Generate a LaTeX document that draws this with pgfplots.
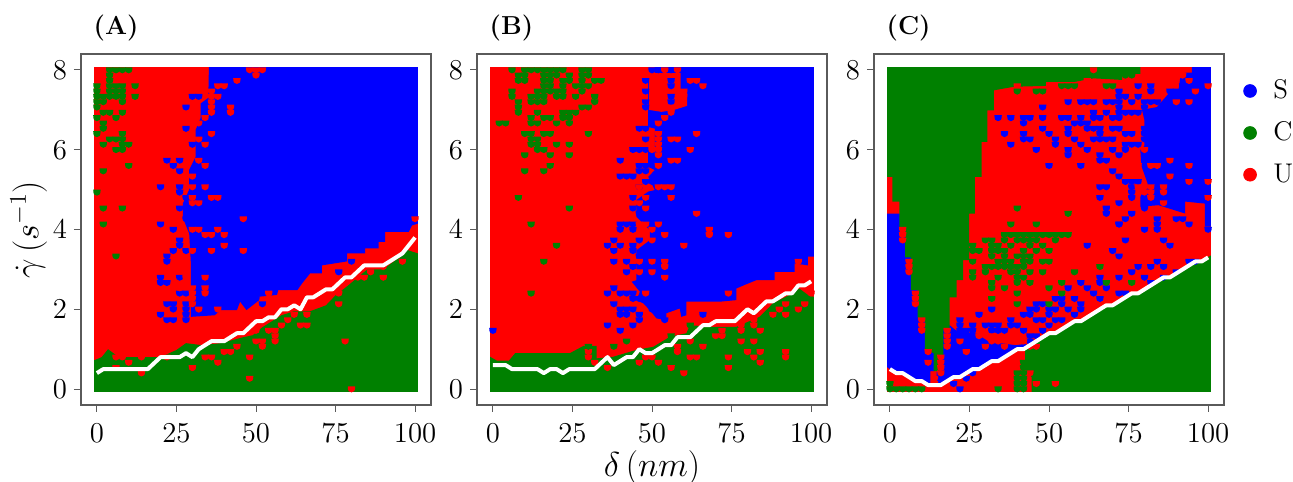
\documentclass[border=0pt]{standalone}
\usepackage{pgfplots}
\pgfplotsset{compat=1.18}
\definecolor{G}{RGB}{0,128,0}
\definecolor{frm}{RGB}{90,90,90}
\pgfdeclareplotmark{cup}{%
  \pgfpathmoveto{\pgfqpoint{-1.85pt}{1.3pt}}%
  \pgfpathcurveto{\pgfqpoint{-1.85pt}{-0.9pt}}{\pgfqpoint{-1.3pt}{-1.7pt}}{\pgfqpoint{0pt}{-1.7pt}}%
  \pgfpathcurveto{\pgfqpoint{1.3pt}{-1.7pt}}{\pgfqpoint{1.85pt}{-0.9pt}}{\pgfqpoint{1.85pt}{1.3pt}}%
  \pgfpathclose\pgfusepathqfill}
\pgfplotsset{
  panel/.style={
    scale only axis, width=175pt, height=175.5pt, anchor=south west,
    clip mode=individual,
    xmin=-5, xmax=105, ymin=-0.4, ymax=8.4,
    xtick={0,25,50,75,100}, ytick={0,2,4,6,8},
    tick align=outside, major tick length=3.5pt,
    xtick pos=bottom, ytick pos=left,
    tick style={frm, line width=0.5pt},
    axis line style={frm, line width=0.6pt},
    tick label style={font=\fontsize{14}{16}\selectfont},
    xticklabel style={yshift=-2.5pt},
  },
  reg/.style={fill=#1, draw=none, forget plot},
  sp/.style={only marks, mark=cup, mark options={draw=none, fill=#1}, color=#1, forget plot,
             y filter/.expression={y*8/60}},
  wl/.style={white, line width=2pt, line join=round, no marks, forget plot},
}
\newcommand{\plab}[1]{\node[anchor=west, inner sep=0pt, font=\fontsize{13}{15}\selectfont\bfseries] at (rel axis cs:0.035,1.074) {(#1)};}
\begin{document}
\begin{tikzpicture}
\useasboundingbox (0,0) rectangle (646.5pt,240.5pt);
% ---------- A
\begin{axis}[panel, at={(40.5pt,38pt)},
  ylabel={\fontsize{17}{19}\selectfont$\dot{\gamma}\,(s^{-1})$}, ylabel style={yshift=-4pt}]
\addplot[reg=red] coordinates {(-0.9,-0.07) (100.9,-0.07) (100.9,8.07) (-0.9,8.07)} -- cycle;
\addplot[reg=blue] coordinates {(35.2,8.07) (100.9,8.07) (100.9,4.15) (99,4.1) (98,3.94) (90.6,3.94) (90.6,3.69) (88.5,3.69) (88.5,3.53) (84.3,3.53) (84.3,3.4) (78.6,3.4) (78.6,3.2) (70.7,3.1) (70.7,2.9) (67,2.9) (64.5,2.65) (63,2.48) (57,2.48) (56.6,2.36) (50.4,2.31) (50.4,2.19) (47,1.98) (45,2.19) (44,1.98) (39,1.98) (37,1.85) (29.5,1.81) (29.5,3.2) (29,3.9) (27,4.3) (27,4.65) (29,5.0) (29,5.5) (31,5.82) (31,6.49) (32.6,6.8) (32.6,7.16) (35,7.3)} -- cycle;
\addplot[reg=G] coordinates {(-0.9,-0.07) (100.9,-0.07) (100.9,3.4) (97,3.5) (95,3.3) (90,3.0) (85,3.0) (79,2.6) (75,2.35) (72,2.1) (67,1.95) (62,1.95) (58,1.85) (52,1.55) (49,1.35) (46,1.3) (39,1.15) (33,1.1) (28,1.15) (25,0.98) (20,0.8) (9,0.8) (6,0.85) (3.5,1.0) (1.5,0.8) (-0.9,0.72)} -- cycle;
\addplot[sp=blue] coordinates {(22,43)(26,43)(24,42)(26,41)(22,25)(24,26)(20,38)(26,38)(26,37)(28,36)(20,31)(24,30)(26,34)(26,27)(28,53)(28,49)(30,55)(32,55)(34,52)(30,46)(28,32)(28,26)(20,21)(20,20)(22,20)(22,16)(24,16)(24,15)(20,14)(22,13)(24,13)(28,16)(28,15)(28,14)(28,13)(26,18)(26,21)(28,18)(50,17)(52,16)(76,22)(80,24)(22,24)(26,28)};
\addplot[sp=red] coordinates {(48,60)(50,60)(52,60)(50,59)(44,58)(40,57)(38,57)(38,55)(36,56)(36,55)(36,54)(36,53)(36,52)(34,51)(42,53)(42,52)(32,50)(36,48)(32,47)(34,46)(32,43)(34,42)(30,40)(30,38)(34,38)(30,36)(30,35)(32,35)(36,36)(38,36)(46,32)(30,30)(32,30)(34,29)(36,29)(38,30)(40,29)(40,27)(30,26)(36,26)(46,26)(28,24)(26,24)(100,32)(96,24)(6,6)(8,6)(10,5)(6,4)(14,6)(14,3)(22,6)(30,4)(34,6)(36,6)(38,5)(40,7)(42,7)(44,8)(48,6)(48,2)(50,9)(52,9)(52,8)(56,9)(56,11)(56,10)(54,11)(50,11)(58,12)(60,13)(62,14)(64,12)(66,14)(66,12)(70,16)(76,16)(72,18)(78,9)(80,0)(86,22)(90,23)(90,21)(82,21)(84,21)(78,20)(76,18)(34,21)(34,19)(34,18)(30,19)(30,18)(30,17)(30,16)(28,21)(26,19)(32,15)(38,15)(42,14)(54,18)};
\addplot[sp=G] coordinates {(4,60)(6,60)(8,60)(10,60)(4,59)(4,58)(4,57)(4,56)(4,55)(6,57)(6,56)(6,55)(8,57)(8,56)(8,55)(8,54)(12,57)(12,55)(0,57)(0,56)(0,55)(0,54)(2,55)(2,54)(0,53)(2,52)(4,52)(8,52)(0,51)(6,51)(2,50)(2,49)(0,48)(8,48)(8,47)(8,46)(4,47)(6,47)(2,46)(6,45)(8,45)(10,46)(10,42)(2,41)(0,37)(8,34)(2,34)(2,31)(6,25)};
\addplot[wl] coordinates {(0,0.4)(2,0.5)(16,0.5)(20,0.8)(26,0.8)(28,0.9)(30,0.8)(32,1.0)(36,1.2)(40,1.2)(44,1.4)(46,1.4)(50,1.7)(52,1.7)(54,1.8)(56,1.8)(58,2.0)(60,2.0)(62,2.1)(64,2.0)(66,2.3)(68,2.3)(72,2.5)(74,2.5)(78,2.8)(80,2.8)(84,3.1)(90,3.1)(92,3.2)(94,3.3)(96,3.4)(98,3.6)(100,3.8)};
\plab{A}
\end{axis}
% ---------- B
\begin{axis}[panel, at={(238.5pt,38pt)},
  xlabel={\fontsize{17}{19}\selectfont$\delta\,(nm)$}, xlabel style={yshift=3pt}]
\addplot[reg=red] coordinates {(-0.9,-0.07) (100.9,-0.07) (100.9,8.07) (-0.9,8.07)} -- cycle;
\addplot[reg=blue] coordinates {(50.9,8.07) (100.9,8.07) (100.9,3.32) (99,3.32) (99,3.1) (94.8,3.15) (94.8,2.94) (88.5,2.94) (88.5,2.73) (82.8,2.73) (79.1,2.61) (76.5,2.52) (76.5,2.23) (71.3,2.19) (60.8,2.19) (60.8,1.85) (59.2,1.81) (58.7,2.02) (54.5,1.9) (54.5,1.73) (51.4,1.77) (49.3,1.98) (47.2,2.15) (45.1,2.23) (46.2,2.44) (43.6,2.69) (45.1,2.73) (45.1,3.48) (49.3,3.73) (49.3,3.98) (45.1,4.32) (45.1,4.74) (48.8,4.95) (50.9,4.99) (48.8,5.32) (50.9,5.49) (48.8,5.57) (48.8,5.99) (50.9,6.07) (50.9,6.53) (48.8,6.57) (48.8,7.79) (50.9,7.87)} -- cycle;
\addplot[reg=red] coordinates {(49,7.92) (59,7.92) (59,7.5) (61,7.5) (61,7.1) (57,7.0) (53,6.95) (49,7.0)} -- cycle;
\addplot[reg=G] coordinates {(-0.9,-0.07) (100.9,-0.07) (100.9,2.31) (99,2.36) (96.3,2.52) (93.2,2.36) (88,2.15) (83.8,1.81) (76.5,1.56) (69,1.56) (61.9,1.6) (60.8,1.4) (55.6,1.31) (50.4,1.06) (45,0.98) (37.8,0.81) (32.6,0.77) (32.6,1.08) (28.4,1.08) (24.2,0.9) (7,0.9) (5,0.71) (1.3,0.71) (-0.9,0.81)} -- cycle;
\addplot[sp=blue] coordinates {(40,43)(40,40)(42,40)(44,40)(46,49)(48,49)(48,47)(44,45)(46,45)(48,45)(46,42)(48,42)(46,41)(48,41)(50,43)(50,39)(48,39)(46,38)(44,36)(44,34)(46,33)(48,32)(50,32)(40,30)(42,31)(44,31)(48,58)(48,56)(48,54)(48,53)(56,58)(56,57)(56,55)(56,54)(50,60)(52,60)(56,60)(60,60)(36,27)(38,28)(40,27)(38,26)(38,24)(42,24)(42,22)(44,27)(44,26)(44,23)(46,28)(46,25)(36,18)(38,19)(40,18)(42,18)(44,18)(44,17)(46,17)(38,16)(40,15)(42,15)(42,14)(44,15)(40,14)(46,14)(46,13)(36,12)(40,11)(44,12)(40,31)(44,30)(50,15)(52,14)(54,13)(66,14)(0,11)};
\addplot[sp=red] coordinates {(54,60)(58,60)(60,56)(60,55)(62,58)(64,58)(66,57)(52,50)(54,51)(56,52)(56,53)(64,48)(52,48)(52,47)(52,46)(56,47)(58,47)(50,45)(52,45)(62,45)(52,44)(56,43)(58,43)(52,42)(52,38)(54,38)(56,38)(56,36)(64,33)(52,31)(68,30)(54,29)(68,29)(74,29)(60,27)(50,24)(50,22)(54,24)(54,23)(54,21)(46,22)(46,24)(48,18)(74,18)(96,24)(50,28)(48,36)(48,34)(46,35)(46,37)(46,38)(48,31)(46,31)(50,30)(36,4)(46,5)(48,6)(50,6)(52,5)(56,4)(60,3)(58,8)(58,7)(62,9)(62,6)(64,6)(66,8)(70,10)(72,11)(72,10)(74,6)(74,4)(78,12)(78,11)(78,9)(82,9)(82,14)(82,13)(82,12)(80,7)(82,6)(84,7)(84,5)(84,11)(88,14)(90,15)(92,16)(92,14)(92,7)(92,6)(96,15)(98,16)(100,18)(30,7)(30,6)(32,5)};
\addplot[sp=G] coordinates {(6,60)(10,60)(12,60)(14,60)(16,60)(18,60)(20,60)(22,60)(28,60)(30,60)(8,59)(10,59)(16,59)(18,59)(20,59)(24,59)(28,59)(30,59)(8,58)(10,58)(16,58)(18,58)(22,58)(24,58)(28,58)(32,58)(34,58)(16,57)(18,57)(22,57)(26,57)(28,57)(30,57)(6,56)(14,56)(16,56)(18,56)(20,56)(22,56)(28,56)(6,55)(12,55)(14,55)(16,55)(20,55)(22,55)(26,55)(32,55)(8,54)(12,54)(14,54)(16,54)(32,54)(8,53)(28,53)(30,53)(8,52)(14,52)(22,52)(24,52)(26,52)(12,51)(16,51)(18,51)(22,51)(24,51)(2,50)(4,50)(12,50)(14,50)(20,50)(24,50)(10,48)(12,48)(16,48)(18,48)(30,48)(12,47)(14,47)(12,46)(14,46)(20,46)(24,46)(14,45)(16,45)(10,44)(18,44)(24,44)(18,42)(10,41)(16,41)(8,36)(24,34)(12,31)(20,27)(16,24)(12,18)(38,8)(42,9)(30,8)(62,12)(56,10)};
\addplot[wl] coordinates {(0,0.6)(4,0.6)(6,0.5)(14,0.5)(16,0.4)(18,0.5)(20,0.5)(22,0.4)(24,0.5)(32,0.5)(36,0.8)(38,0.6)(42,0.8)(44,0.8)(46,1.0)(48,0.9)(50,0.9)(54,1.1)(56,1.1)(58,1.3)(62,1.3)(66,1.6)(68,1.6)(70,1.7)(76,1.7)(80,2.0)(82,1.9)(86,2.2)(88,2.2)(92,2.4)(94,2.4)(96,2.6)(98,2.6)(100,2.7)};
\plab{B}
\end{axis}
% ---------- C
\begin{axis}[panel, at={(437pt,38pt)},
  legend style={at={(1.055,0.95)}, anchor=north west, draw=none, fill=none,
    font=\fontsize{13.5}{15}\selectfont, row sep=6pt, inner xsep=0pt},
  legend cell align=left]
\addplot[reg=red] coordinates {(-0.9,-0.07) (100.9,-0.07) (100.9,8.07) (-0.9,8.07)} -- cycle;
\addplot[reg=blue] coordinates {(94.9,8.07) (100.9,8.07) (100.9,4.07) (99,4.07) (99,4.65) (92.8,4.7) (92.8,4.4) (84.4,4.61) (78.7,4.57) (78.7,4.82) (81,5.15) (79,5.6) (78.7,5.99) (80,6.1) (80,6.74) (79.2,7) (83.9,7.07) (87.6,7.41) (90.7,7.49) (91.2,7.79) (94.9,7.87)} -- cycle;
\addplot[reg=blue] coordinates {(-0.9,4.4) (3.5,4.4) (14,2) (14,0.45) (12.7,0.45) (12.7,0.13) (12,0.13) (8,0.22) (4,0.4) (2,0.42) (0,0.5) (-0.9,0.55)} -- cycle;
\addplot[reg=blue] coordinates {(14.5,0.13) (16,0.13) (20,0.3) (22,0.3) (26,0.5) (28,0.5) (32,0.7) (34,0.7) (40,1.0) (42,1.0) (50,1.4) (52,1.4) (50,1.44) (47.9,1.35) (44.7,1.15) (39.5,1.1) (31,1.19) (27,1.4) (21.2,1.44) (18.8,1.6) (16.8,1.5) (15,0.8)} -- cycle;
\addplot[reg=G] coordinates {(-0.9,8.07) (78.7,8.07) (78.7,7.9) (73,7.9) (73,7.75) (64,7.79) (58,7.7) (49,7.7) (49,7.6) (39,7.58) (32.7,7.49) (32.7,6.99) (30.6,6.99) (30.6,6.2) (28.8,6.2) (28.8,5.32) (26.7,5.32) (26.7,4.4) (24.9,4.4) (24.9,3.23) (23,3.23) (23,2.73) (21,2.73) (21,2.3) (18.8,2.3) (18.8,1.52) (16.8,1.52) (16.8,0.81) (15.6,0.81) (15.6,0.45) (13.7,0.45) (13.7,0.9) (11,1.0) (11,1.77) (8.7,1.77) (8.7,2.48) (6.6,2.48) (6.6,3.3) (4.8,3.3) (4.8,3.99) (3,3.99) (3,4.7) (0.8,4.7) (0.8,5.32) (-0.9,5.32)} -- cycle;
\addplot[reg=G] coordinates {(42.5,1.0) (50,1.42) (52,1.42) (58,1.72) (60,1.72) (68,2.12) (70,2.12) (76,2.42) (78,2.42) (86,2.82) (88,2.82) (96,3.22) (98,3.22) (100.9,3.35) (100.9,-0.07) (44.5,-0.07) (44.5,0.3) (42.5,0.5)} -- cycle;
\addplot[sp=blue] coordinates {(34,51)(38,51)(42,51)(42,50)(44,51)(48,53)(48,51)(48,49)(50,48)(54,51)(56,54)(56,51)(56,49)(58,50)(60,50)(62,50)(60,54)(62,54)(64,54)(60,51)(64,52)(64,51)(66,51)(68,52)(70,51)(68,54)(70,54)(64,49)(66,49)(66,48)(62,49)(70,49)(36,48)(42,48)(42,47)(44,47)(38,46)(46,45)(52,47)(52,46)(56,48)(58,47)(60,46)(56,45)(64,47)(66,47)(68,47)(70,47)(70,45)(62,45)(56,44)(50,42)(60,42)(66,44)(66,43)(68,43)(72,44)(70,41)(72,40)(74,39)(76,39)(78,39)(66,38)(68,38)(66,36)(76,38)(76,37)(76,36)(72,35)(68,34)(68,33)(76,33)(72,31)(74,32)(80,30)(84,32)(84,31)(84,30)(90,32)(92,32)(94,31)(100,30)(80,35)(80,34)(72,56)(74,55)(72,55)(78,57)(82,57)(82,56)(78,55)(80,54)(80,53)(82,54)(84,54)(76,54)(72,54)(72,53)(72,52)(72,51)(74,52)(76,52)(78,52)(72,49)(74,48)(76,48)(74,46)(74,45)(76,46)(78,46)(80,48)(80,47)(82,47)(84,46)(80,49)(88,56)(90,56)(92,57)(92,56)(94,59)
(62,27)(74,28)(70,26)(72,25)(86,28)(88,27)(84,24)(94,24)(96,24)(78,23)(82,23)(86,23)(76,22)(90,22)(66,21)(72,21)(80,21)(86,21)(66,20)(68,19)(60,20)(62,19)(64,18)(56,19)(82,20)(72,18)(74,18)(52,17)(54,17)(58,17)(66,17)(46,16)(48,16)(44,15)(50,15)(54,16)(56,15)(60,16)(60,15)(32,15)(46,15)(52,15)(44,14)(46,13)(48,13)(50,14)(52,13)(54,13)(58,14)(22,13)(28,14)(38,13)(42,14)(26,12)(26,11)(30,12)(32,12)(34,12)(38,12)(40,12)(42,11)(22,12)(50,12)(32,11)(34,11)(36,11)(22,11)(24,11)(72,31)(22,0)(26,3)(24,2)(20,1)(44,10)(46,10)(48,11)(44,9)};
\addplot[sp=red] coordinates {(88,43)(94,42)(88,40)(94,39)(86,37)(100,39)(100,36)(82,42)(84,42)(78,42)(78,41)(80,45)(90,54)(96,56)(94,54)(100,57)(94,58)(92,60)(92,59)(78,38)(80,38)(80,37)(82,38)(82,37)(82,36)(86,38)(86,35)(86,33)
(64,60)(40,57)(62,58)(22,9)(24,7)(28,10)(30,8)(32,10)(32,9)(34,9)(36,8)(40,10)(42,9)(46,8)(44,8)(18,11)(18,10)(18,9)(18,8)(16,6)(16,5)(16,4)(16,3)(14,2)(14,1)(12,7)(12,5)(10,13)(10,12)(10,11)(8,18)(8,17)(8,16)(6,24)(6,23)(6,22)(4,30)(4,29)(4,28)(46,1)(52,1)(44,3)};
\addplot[sp=G] coordinates {(40,56)(46,56)(48,56)(54,57)(56,57)(58,57)(68,57)(70,57)(74,59)(76,59)(40,34)(56,33)(38,31)(46,31)(44,29)(46,29)(48,29)(50,29)(52,29)(36,29)(38,29)(40,29)(42,29)(54,29)(56,29)(30,28)(32,28)(36,28)(40,28)(42,28)(44,28)(46,28)(52,28)(26,27)(32,27)(34,27)(38,27)(44,27)(48,27)(32,26)(34,26)(36,26)(42,26)(46,26)(50,26)(26,26)(28,26)(32,25)(36,25)(40,25)(42,25)(44,25)(26,24)(34,24)(36,24)(38,24)(42,24)(44,24)(48,24)(50,24)(38,23)(40,23)(42,23)(66,23)(30,23)(32,23)(34,23)(36,23)(26,22)(30,22)(38,22)(40,22)(44,22)(48,22)(58,22)(26,21)(34,21)(40,21)(42,21)(32,20)(40,20)(44,20)(54,20)(68,20)(76,20)(32,19)(36,19)(50,19)(54,18)(40,18)(32,17)(40,16)(50,16)(42,5)(42,4)(40,3)(42,3)(40,2)(42,2)(40,1)(42,1)(40,0)(42,0)(34,0)(0,0)(2,0)(4,0)(6,0)(8,0)(10,0)(0,1)};
\addplot[wl] coordinates {(0,0.5)(2,0.4)(4,0.4)(8,0.2)(10,0.2)(12,0.1)(16,0.1)(20,0.3)(22,0.3)(26,0.5)(28,0.5)(32,0.7)(34,0.7)(40,1.0)(42,1.0)(50,1.4)(52,1.4)(58,1.7)(60,1.7)(68,2.1)(70,2.1)(76,2.4)(78,2.4)(86,2.8)(88,2.8)(96,3.2)(98,3.2)(100,3.3)};
\plab{C}
\addlegendimage{only marks, mark=*, mark size=3.2pt, blue}
\addlegendentry{\hspace{6.5pt}S}
\addlegendimage{only marks, mark=*, mark size=3.2pt, G}
\addlegendentry{\hspace{6.5pt}C}
\addlegendimage{only marks, mark=*, mark size=3.2pt, red}
\addlegendentry{\hspace{6.5pt}U}
\end{axis}
\end{tikzpicture}
\end{document}
